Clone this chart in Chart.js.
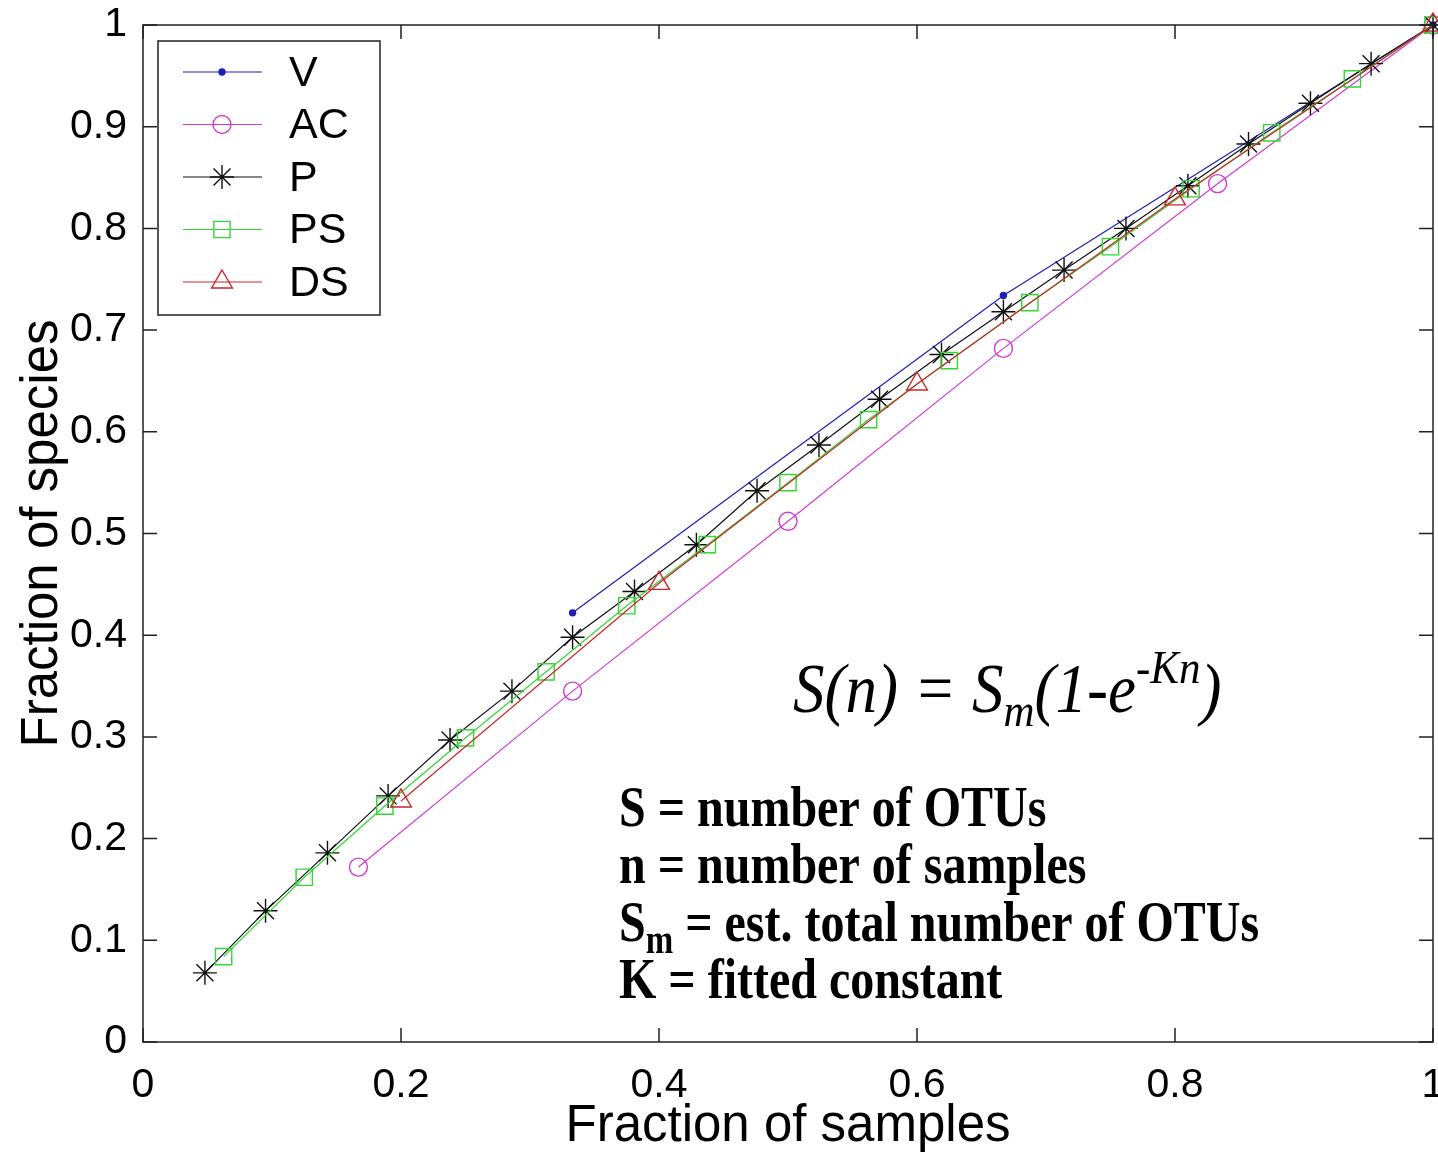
<!DOCTYPE html>
<html>
<head>
<meta charset="utf-8">
<script src="https://cdn.jsdelivr.net/npm/chart.js@4.4.1/dist/chart.umd.min.js"></script>
<style>
html,body{margin:0;padding:0;background:#fff;}
canvas{display:block;}
</style>
</head>
<body>
<canvas id="c" width="1438" height="1158"></canvas>
<script>
// ---- data ----
const seriesNames = ['V', 'AC', 'P', 'PS', 'DS'];

const vX = [0.333, 0.667, 1];
const vY = [0.422, 0.734, 1];

const acX = [0.167, 0.333, 0.5, 0.667, 0.833, 1];
const acY = [0.172, 0.345, 0.512, 0.682, 0.844, 1];

const pX = [0.048, 0.095, 0.143, 0.190, 0.238, 0.286, 0.333, 0.381, 0.429, 0.476, 0.524,
            0.571, 0.619, 0.667, 0.714, 0.762, 0.810, 0.857, 0.905, 0.952, 1];
const pY = [0.068, 0.129, 0.186, 0.242, 0.297, 0.345, 0.398, 0.443, 0.489, 0.542, 0.587,
            0.632, 0.676, 0.718, 0.759, 0.800, 0.842, 0.883, 0.923, 0.962, 1];

const psX = [0.0625, 0.125, 0.1875, 0.25, 0.3125, 0.375, 0.4375, 0.5, 0.5625, 0.625,
             0.6875, 0.75, 0.8125, 0.875, 0.9375, 1];
const psY = [0.084, 0.162, 0.232, 0.299, 0.364, 0.429, 0.489, 0.550, 0.612, 0.670,
             0.727, 0.782, 0.839, 0.894, 0.947, 1];

const dsX = [0.2, 0.4, 0.6, 0.8, 1];
const dsY = [0.237, 0.451, 0.647, 0.829, 1];

const xTickValues = [0, 0.2, 0.4, 0.6, 0.8, 1];
const xTickLabels = ['0', '0.2', '0.4', '0.6', '0.8', '1'];
const yTickValues = [0, 0.1, 0.2, 0.3, 0.4, 0.5, 0.6, 0.7, 0.8, 0.9, 1];
const yTickLabels = ['0', '0.1', '0.2', '0.3', '0.4', '0.5', '0.6', '0.7', '0.8', '0.9', '1'];

const xTitle = 'Fraction of samples';
const yTitle = 'Fraction of species';

const notes = ['S = number of OTUs', 'n = number of samples', null, 'K = fitted constant'];

// ---- helpers ----
function pts(xs, ys) { return xs.map((x, i) => ({ x: x, y: ys[i] })); }

const SANS = "'Liberation Sans', Arial, Helvetica, sans-serif";
const SERIF = "'Liberation Serif', 'Times New Roman', serif";

const datasets = [
  { label: 'V', data: pts(vX, vY), borderColor: '#1f1fb8', backgroundColor: '#1f1fb8',
    pointStyle: 'circle', pointRadius: 3, pointBackgroundColor: '#1f1fb8', order: 5 },
  { label: 'AC', data: pts(acX, acY), borderColor: '#d23bd2', backgroundColor: '#d23bd2',
    pointStyle: 'circle', pointRadius: 9, pointBackgroundColor: 'rgba(0,0,0,0)', order: 4 },
  { label: 'P', data: pts(pX, pY), borderColor: '#111111', backgroundColor: '#111111',
    pointStyle: 'star', pointRadius: 12, pointBackgroundColor: 'rgba(0,0,0,0)', order: 3 },
  { label: 'PS', data: pts(psX, psY), borderColor: '#33d633', backgroundColor: '#33d633',
    pointStyle: 'rect', pointRadius: 11.5, pointBackgroundColor: 'rgba(0,0,0,0)', order: 2 },
  { label: 'DS', data: pts(dsX, dsY), borderColor: '#c82828', backgroundColor: '#c82828',
    pointStyle: 'triangle', pointRadius: 12, pointBackgroundColor: 'rgba(0,0,0,0)', order: 1 }
].map(d => Object.assign(d, {
  showLine: true, borderWidth: 1.2, pointBorderWidth: 1.4, tension: 0, fill: false,
  clip: false, pointHoverRadius: d.pointRadius
}));

// frame with inward ticks (MATLAB style)
const framePlugin = {
  id: 'frame',
  afterDraw(chart) {
    const { ctx, chartArea: a, scales } = chart;
    const L = 14;
    ctx.save();
    ctx.strokeStyle = '#222';
    ctx.lineWidth = 1.5;
    ctx.strokeRect(a.left, a.top, a.right - a.left, a.bottom - a.top);
    ctx.beginPath();
    xTickValues.forEach(v => {
      const px = scales.x.getPixelForValue(v);
      ctx.moveTo(px, a.bottom); ctx.lineTo(px, a.bottom - L);
      ctx.moveTo(px, a.top); ctx.lineTo(px, a.top + L);
    });
    yTickValues.forEach(v => {
      const py = scales.y.getPixelForValue(v);
      ctx.moveTo(a.left, py); ctx.lineTo(a.left + L, py);
      ctx.moveTo(a.right, py); ctx.lineTo(a.right - L, py);
    });
    ctx.stroke();
    ctx.restore();
  }
};

// boxed legend with line + marker samples
const legendPlugin = {
  id: 'boxLegend',
  afterDraw(chart) {
    const { ctx, chartArea: a } = chart;
    const bx = a.left + 15, by = a.top + 16, bw = 222, bh = 274;
    ctx.save();
    ctx.fillStyle = '#fff';
    ctx.fillRect(bx, by, bw, bh);
    ctx.strokeStyle = '#222';
    ctx.lineWidth = 1.5;
    ctx.strokeRect(bx, by, bw, bh);
    const rowH = 52.5;
    chart.data.datasets.forEach((ds, i) => {
      const cy = by + 31 + i * rowH;
      ctx.strokeStyle = ds.borderColor;
      ctx.lineWidth = 1.2;
      ctx.beginPath();
      ctx.moveTo(bx + 25, cy); ctx.lineTo(bx + 104, cy);
      ctx.stroke();
      ctx.lineWidth = 1.4;
      ctx.fillStyle = ds.pointBackgroundColor;
      Chart.helpers.drawPoint(ctx, { pointStyle: ds.pointStyle, radius: ds.pointRadius, borderWidth: 1.4, rotation: 0 }, bx + 64, cy);
      ctx.fillStyle = '#000';
      ctx.font = '43px ' + SANS;
      ctx.textBaseline = 'middle';
      ctx.textAlign = 'left';
      ctx.fillText(seriesNames[i], bx + 131, cy + 2);
    });
    ctx.restore();
  }
};

// annotation text: formula and definitions
const notesPlugin = {
  id: 'notes',
  afterDraw(chart) {
    const ctx = chart.ctx;
    ctx.save();
    ctx.fillStyle = '#000';
    ctx.textBaseline = 'alphabetic';
    ctx.textAlign = 'left';

    function piece(text, font, x, y, sy) {
      ctx.save();
      ctx.font = font;
      ctx.translate(x, y);
      ctx.scale(1, sy);
      ctx.fillText(text, 0, 0);
      const w = ctx.measureText(text).width;
      ctx.restore();
      return x + w;
    }
    // S(n) = S_m(1-e^{-Kn})
    const big = 'italic 63px ' + SERIF, small = 'italic 43px ' + SERIF;
    const sy = 1.1;
    let x = 793, y = 712;
    x = piece('S(n) = S', big, x, y, sy);
    x = piece('m', small, x, y + 14, sy);
    x = piece('(1-e', big, x, y, sy);
    x = piece('-Kn', small, x, y - 29, sy);
    piece(')', big, x, y, sy);

    // definitions
    const bold = 'bold 48px ' + SERIF, bsmall = 'bold 33px ' + SERIF;
    const bsy = 1.2;
    const bases = [826, 883, 941, 998];
    piece(notes[0], bold, 619, bases[0], bsy);
    piece(notes[1], bold, 619, bases[1], bsy);
    let x3 = piece('S', bold, 619, bases[2], bsy);
    x3 = piece('m', bsmall, x3, bases[2] + 12, bsy);
    piece(' = est. total number of OTUs', bold, x3, bases[2], bsy);
    piece(notes[3], bold, 619, bases[3], bsy);
    ctx.restore();
  }
};

new Chart(document.getElementById('c'), {
  type: 'scatter',
  data: { datasets: datasets },
  options: {
    responsive: false,
    devicePixelRatio: 1,
    animation: false,
    events: [],
    layout: { autoPadding: false, padding: { left: 0, right: 5, top: 25, bottom: 0 } },
    plugins: { legend: { display: false }, tooltip: { enabled: false } },
    scales: {
      x: {
        type: 'linear', min: 0, max: 1,
        grid: { display: false },
        border: { display: false },
        afterBuildTicks: s => { s.ticks = xTickValues.map(v => ({ value: v })); },
        afterFit: s => { s.height = 116; s.paddingLeft = 0; s.paddingRight = 0; },
        ticks: {
          color: '#000', padding: 11, maxRotation: 0, autoSkip: false,
          font: { family: SANS, size: 41 },
          callback: (v, i) => xTickLabels[i]
        },
        title: {
          display: true, text: xTitle, color: '#000',
          font: { family: SANS, size: 51 }, padding: { top: 0, bottom: 0 }
        }
      },
      y: {
        type: 'linear', min: 0, max: 1,
        grid: { display: false },
        border: { display: false },
        afterBuildTicks: s => { s.ticks = yTickValues.map(v => ({ value: v })); },
        afterFit: s => { s.width = 143; s.paddingTop = 0; s.paddingBottom = 0; },
        ticks: {
          color: '#000', padding: 8, autoSkip: false,
          font: { family: SANS, size: 41 },
          callback: (v, i) => yTickLabels[i]
        },
        title: {
          display: true, text: yTitle, color: '#000',
          font: { family: SANS, size: 51 }, padding: { top: 12, bottom: 0 }
        }
      }
    }
  },
  plugins: [framePlugin, legendPlugin, notesPlugin]
});
</script>
</body>
</html>
